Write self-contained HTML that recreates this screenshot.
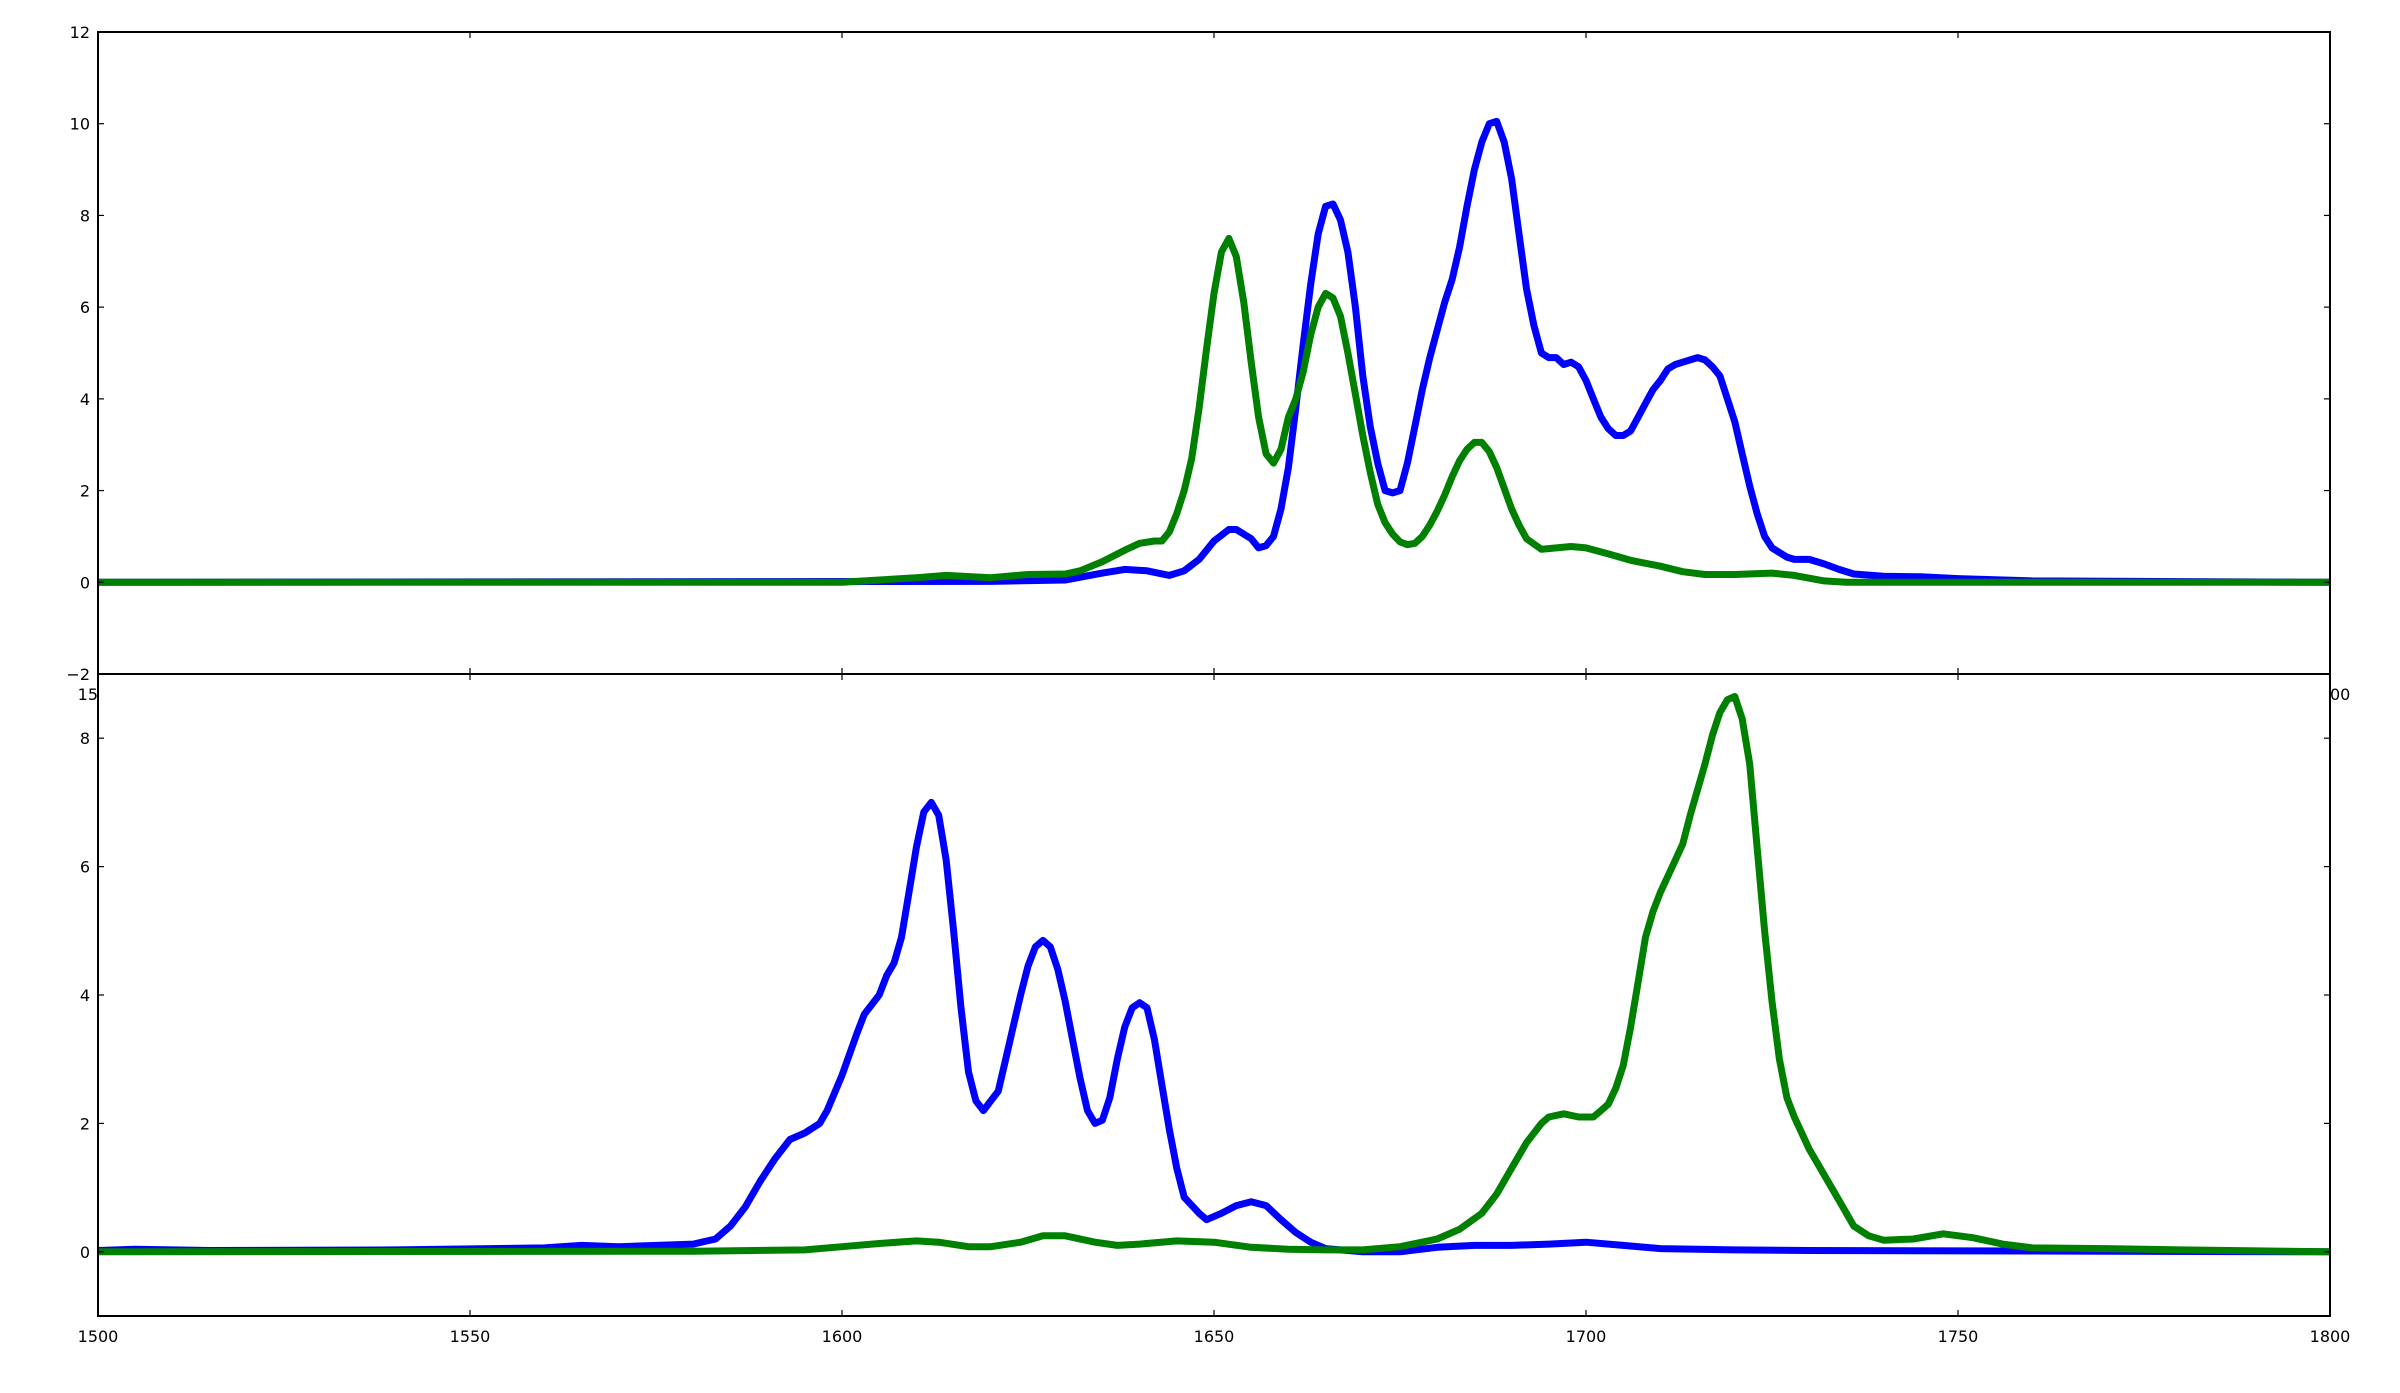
<!DOCTYPE html>
<html><head><meta charset="utf-8"><style>
html,body{margin:0;padding:0;background:#fff;}
svg{display:block;font-family:"DejaVu Sans","Liberation Sans",sans-serif;}
</style></head><body>
<svg id="chart" width="2400" height="1393" viewBox="0 0 2400 1393" xmlns="http://www.w3.org/2000/svg"></svg>
<script>
const topBlueX=[1500,1620,1630,1635,1638,1641,1644,1646,1648,1650,1652,1653,1655,1656,1657,1658,1659,1660,1661,1662,1663,1664,1665,1666,1667,1668,1669,1670,1671,1672,1673,1674,1675,1676,1677,1678,1679,1680,1681,1682,1683,1684,1685,1686,1687,1688,1689,1690,1691,1692,1693,1694,1695,1696,1697,1698,1699,1700,1701,1702,1703,1704,1705,1706,1707,1708,1709,1710,1711,1712,1713,1714,1715,1716,1717,1718,1719,1720,1721,1722,1723,1724,1725,1726,1727,1728,1730,1732,1734,1736,1740,1745,1750,1760,1800];
const topBlueY=[0,0.02,0.05,0.2,0.28,0.25,0.15,0.25,0.5,0.9,1.15,1.15,0.95,0.75,0.8,1.0,1.6,2.5,3.8,5.2,6.5,7.6,8.2,8.25,7.9,7.2,6.0,4.5,3.4,2.6,2.0,1.95,2.0,2.6,3.4,4.2,4.9,5.5,6.1,6.6,7.3,8.2,9.0,9.6,10.0,10.05,9.6,8.8,7.6,6.4,5.6,5.0,4.9,4.9,4.75,4.8,4.7,4.4,4.0,3.6,3.35,3.2,3.2,3.3,3.6,3.9,4.2,4.4,4.65,4.75,4.8,4.85,4.9,4.85,4.7,4.5,4.0,3.5,2.8,2.1,1.5,1.0,0.75,0.65,0.55,0.5,0.5,0.4,0.28,0.18,0.13,0.12,0.08,0.03,0];
const topGreenX=[1500,1600,1605,1610,1614,1620,1625,1630,1632,1635,1638,1640,1642,1643,1644,1645,1646,1647,1648,1649,1650,1651,1652,1653,1654,1655,1656,1657,1658,1659,1660,1661,1662,1663,1664,1665,1666,1667,1668,1669,1670,1671,1672,1673,1674,1675,1676,1677,1678,1679,1680,1681,1682,1683,1684,1685,1686,1687,1688,1689,1690,1691,1692,1694,1696,1698,1700,1703,1706,1710,1713,1716,1720,1725,1728,1732,1735,1800];
const topGreenY=[0,0,0.05,0.1,0.15,0.1,0.17,0.18,0.25,0.45,0.7,0.85,0.9,0.9,1.1,1.5,2.0,2.7,3.8,5.1,6.3,7.2,7.5,7.1,6.1,4.8,3.6,2.8,2.6,2.9,3.6,4.0,4.6,5.4,6.0,6.3,6.2,5.8,5.0,4.1,3.2,2.4,1.7,1.3,1.05,0.88,0.82,0.85,1.0,1.25,1.55,1.9,2.3,2.65,2.9,3.05,3.05,2.85,2.5,2.05,1.6,1.25,0.95,0.72,0.75,0.78,0.75,0.62,0.48,0.35,0.23,0.17,0.17,0.2,0.15,0.03,0,0];
const botBlueX=[1500,1505,1515,1540,1560,1565,1570,1580,1583,1585,1587,1589,1591,1593,1595,1597,1598,1600,1602,1603,1605,1606,1607,1608,1609,1610,1611,1612,1613,1614,1615,1616,1617,1618,1619,1620,1621,1622,1623,1624,1625,1626,1627,1628,1629,1630,1631,1632,1633,1634,1635,1636,1637,1638,1639,1640,1641,1642,1643,1644,1645,1646,1648,1649,1651,1653,1655,1657,1659,1661,1663,1665,1670,1675,1680,1685,1690,1695,1700,1705,1710,1720,1730,1800];
const botBlueY=[0.02,0.04,0.02,0.03,0.06,0.1,0.08,0.12,0.2,0.4,0.7,1.1,1.45,1.75,1.85,2.0,2.2,2.75,3.4,3.7,4.0,4.3,4.5,4.9,5.6,6.3,6.85,7.0,6.8,6.1,5.0,3.8,2.8,2.35,2.2,2.35,2.5,3.0,3.5,4.0,4.45,4.75,4.85,4.75,4.4,3.9,3.3,2.7,2.2,2.0,2.05,2.4,3.0,3.5,3.8,3.88,3.8,3.3,2.6,1.9,1.3,0.85,0.6,0.5,0.6,0.72,0.78,0.72,0.5,0.3,0.15,0.05,0,0,0.07,0.1,0.1,0.12,0.15,0.1,0.05,0.03,0.02,0];
const botGreenX=[1500,1580,1595,1600,1605,1610,1613,1617,1620,1624,1627,1630,1634,1637,1640,1645,1650,1655,1660,1665,1670,1675,1680,1683,1686,1688,1690,1692,1694,1695,1697,1699,1701,1702,1703,1704,1705,1706,1707,1708,1709,1710,1712,1713,1714,1715,1716,1717,1718,1719,1720,1721,1722,1723,1724,1725,1726,1727,1728,1730,1732,1734,1736,1738,1740,1744,1748,1752,1756,1760,1770,1780,1800];
const botGreenY=[0,0.01,0.03,0.08,0.13,0.17,0.15,0.08,0.08,0.15,0.25,0.25,0.15,0.1,0.12,0.17,0.15,0.07,0.04,0.03,0.03,0.08,0.2,0.35,0.6,0.9,1.3,1.7,2.0,2.1,2.15,2.1,2.1,2.2,2.3,2.55,2.9,3.5,4.2,4.9,5.3,5.6,6.1,6.35,6.8,7.2,7.6,8.05,8.4,8.6,8.65,8.3,7.6,6.3,5.0,3.9,3.0,2.4,2.1,1.6,1.2,0.8,0.4,0.25,0.18,0.2,0.28,0.22,0.12,0.06,0.05,0.03,0];
const topYTicks=[-2,0,2,4,6,8,10,12];
const botYTicks=[0,2,4,6,8];
const xTicks=[1500,1550,1600,1650,1700,1750,1800];

const NS='http://www.w3.org/2000/svg';
const svg=document.getElementById('chart');
const L=98,R=2330;
const xs=v=>L+(v-1500)/(300)*(R-L);
function mk(tag,attrs,parent){const e=document.createElementNS(NS,tag);for(const k in attrs)e.setAttribute(k,attrs[k]);(parent||svg).appendChild(e);return e;}
function panel(name,top,bot,ymin,ymax,yt,series){
  const ys=v=>bot-(v-ymin)/(ymax-ymin)*(bot-top);
  const g=mk('g',{});
  
  
  const bg=mk('rect',{x:L,y:top,width:R-L,height:bot-top,fill:'#fff'},g);
  
  
  const cid='clip-'+name;
  const cp=mk('clipPath',{id:cid},g);mk('rect',{x:L,y:top,width:R-L,height:bot-top},cp);
  series.forEach(s=>{
    const pts=s.x.map((xv,i)=>xs(xv).toFixed(1)+','+ys(s.y[i]).toFixed(1)).join(' ');
    const pl=mk('polyline',{points:pts,fill:'none',stroke:s.c,'stroke-width':7,'stroke-linejoin':'round','clip-path':'url(#'+cid+')'},g);
    
    
  });
  yt.forEach(t=>{
    const y=ys(t);
    mk('line',{x1:L,y1:y,x2:L+6,y2:y,stroke:'#000','stroke-width':1.2},g);
    mk('line',{x1:R,y1:y,x2:R-6,y2:y,stroke:'#000','stroke-width':1.2},g);
    const tx=mk('text',{x:L-8,y:y+6,'text-anchor':'end','font-size':16,fill:'#000'},g);
    tx.textContent=t<0?'\u2212'+(-t):String(t);
    
    
  });
  xTicks.forEach(t=>{
    const x=xs(t);
    mk('line',{x1:x,y1:bot,x2:x,y2:bot-6,stroke:'#000','stroke-width':1.2},g);
    mk('line',{x1:x,y1:top,x2:x,y2:top+6,stroke:'#000','stroke-width':1.2},g);
    const tx=mk('text',{x:x,y:bot+26,'text-anchor':'middle','font-size':16,fill:'#000'},g);
    tx.textContent=String(t);
    
    
  });
  const fr=mk('rect',{x:L,y:top,width:R-L,height:bot-top,fill:'none',stroke:'#000','stroke-width':2},g);
  
  
}
panel('top-panel',32,674,-2,12,topYTicks,[{x:topBlueX,y:topBlueY,c:'#0000ff',n:'top-blue-line'},{x:topGreenX,y:topGreenY,c:'#008000',n:'top-green-line'}]);
panel('bottom-panel',674,1316,-1,9,botYTicks,[{x:botBlueX,y:botBlueY,c:'#0000ff',n:'bottom-blue-line'},{x:botGreenX,y:botGreenY,c:'#008000',n:'bottom-green-line'}]);
</script>
</body></html>
